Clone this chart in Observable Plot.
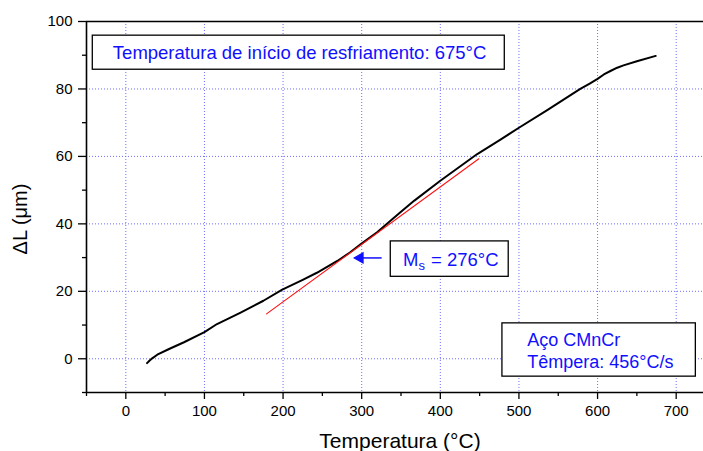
<!DOCTYPE html>
<html>
<head>
<meta charset="utf-8">
<script src="https://cdn.jsdelivr.net/npm/d3@7"></script>
<script src="https://cdn.jsdelivr.net/npm/@observablehq/plot@0.6"></script>
<style>
  html, body { margin: 0; padding: 0; background: white; overflow: hidden; }
</style>
</head>
<body>
<div id="chart"></div>
<script>
// Measured dilatometry curve (temperature °C, ΔL µm)
const temperature = [27, 30, 34, 40, 55, 74, 100, 116, 133, 146, 175, 199, 225, 243, 269, 285, 299, 320, 337, 350, 367, 400, 447, 476, 500, 536, 578, 590, 600, 608, 617, 625, 633, 650, 674];
const deltaL =      [-1.3, -0.6, 0.2, 1.2, 2.9, 4.9, 7.9, 10.3, 12.2, 13.7, 17.2, 20.5, 23.4, 25.5, 29.0, 31.5, 34.0, 37.6, 41.0, 43.6, 46.9, 52.8, 60.7, 64.9, 68.5, 73.7, 80.0, 81.6, 83.0, 84.3, 85.4, 86.3, 87.0, 88.2, 89.8];

// Tangent line (red)
const tangentX = [179, 449];
const tangentY = [13.3, 59.3];

// Ticks
const xMajor = [0, 100, 200, 300, 400, 500, 600, 700];
const xMinor = [-50, 50, 150, 250, 350, 450, 550, 650, 750];
const yMajor = [0, 20, 40, 60, 80, 100];
const yMinor = [-10, 10, 30, 50, 70, 90];
const yGrid = [0, 20, 40, 60, 80];

// Annotations
const titleText = "Temperatura de início de resfriamento: 675°C";
const msValue = 276;
const steelLines = ["Aço CMnCr", "Têmpera: 456°C/s"];

const blue = "#1010ff";
const gridColor = "#6f6fff";

const curve = temperature.map((t, i) => ({t, d: deltaL[i]}));
const tangent = tangentX.map((t, i) => ({t, d: tangentY[i]}));

const chart = Plot.plot({
  width: 703,
  height: 451,
  marginLeft: 86,
  marginRight: 0,
  marginTop: 21,
  marginBottom: 59,
  style: {fontFamily: "'Liberation Sans', Arial, sans-serif", background: "white", color: "black"},
  x: {domain: [-50, 750], range: [86, 715]},
  y: {domain: [-10, 100], range: [392, 21]},
  marks: [
    Plot.gridX(xMajor, {stroke: gridColor, strokeOpacity: 1, strokeDasharray: "1,2", strokeWidth: 1}),
    Plot.gridY(yGrid, {stroke: gridColor, strokeOpacity: 1, strokeDasharray: "1,2", strokeWidth: 1}),
    Plot.ruleY([-10, 100], {stroke: "black", strokeWidth: 1.6}),
    Plot.ruleX([-50], {stroke: "black", strokeWidth: 1.6}),
    Plot.axisX(xMajor, {tickSize: 7, tickPadding: 6, fontSize: 15, label: null, strokeWidth: 1.3}),
    Plot.axisX(xMinor, {tickSize: 4, tickFormat: () => "", label: null, strokeWidth: 1.3}),
    Plot.axisY(yMajor, {tickSize: 8, tickPadding: 6, fontSize: 15, label: null, strokeWidth: 1.3}),
    Plot.axisY(yMinor, {tickSize: 4, tickFormat: () => "", label: null, strokeWidth: 1.3}),
    // curve and tangent
    Plot.line(curve, {x: "t", y: "d", stroke: "black", strokeWidth: 2}),
    Plot.line(tangent, {x: "t", y: "d", stroke: "#ff1010", strokeWidth: 1.1}),
    // title box
    Plot.rect([{x1: -42, x2: 482, y1: 85.7, y2: 95.8}], {x1: "x1", x2: "x2", y1: "y1", y2: "y2", fill: "white", stroke: "black", strokeWidth: 1.3}),
    Plot.text([titleText], {x: 221, y: 90.7, fill: blue, fontSize: 18.5, lineAnchor: "middle"}),
    // Ms box
    Plot.rect([{x1: 337, x2: 487, y1: 24.3, y2: 34.8}], {x1: "x1", x2: "x2", y1: "y1", y2: "y2", fill: "white", stroke: "black", strokeWidth: 1.3}),
    Plot.text(["M"], {x: 352.5, y: 29.4, fill: blue, fontSize: 18.5, textAnchor: "start", lineAnchor: "middle"}),
    Plot.text(["s"], {x: 352.5, y: 29.4, dx: 15.5, dy: 6, fill: blue, fontSize: 13, textAnchor: "start", lineAnchor: "middle"}),
    Plot.text([`= ${msValue}°C`], {x: 352.5, y: 29.4, dx: 28, fill: blue, fontSize: 18.5, textAnchor: "start", lineAnchor: "middle"}),
    Plot.ruleY([29.9], {x1: 300, x2: 326, stroke: blue, strokeWidth: 1.5}),
    Plot.dot([{t: 298, d: 29.9}], {x: "t", y: "d", symbol: "triangle", rotate: -90, r: 3.6, fill: blue, stroke: blue}),
    // steel box
    Plot.rect([{x1: 479, x2: 725, y1: -5.3, y2: 10.5}], {x1: "x1", x2: "x2", y1: "y1", y2: "y2", fill: "white", stroke: "black", strokeWidth: 1.3}),
    Plot.text(steelLines, {x: 510.5, y: (d, i) => [5.6, -1.0][i], fill: blue, fontSize: 18, textAnchor: "start", lineAnchor: "middle"}),
    // axis titles
    Plot.text(["Temperatura (°C)"], {frameAnchor: "bottom", lineAnchor: "middle", dx: 5, dy: 49, fontSize: 21, fill: "black"}),
    Plot.text(["ΔL (μm)"], {frameAnchor: "left", lineAnchor: "middle", textAnchor: "middle", rotate: -90, dx: -66, dy: 12, fontSize: 20, fill: "black"})
  ]
});

document.getElementById("chart").appendChild(chart);
</script>
</body>
</html>
